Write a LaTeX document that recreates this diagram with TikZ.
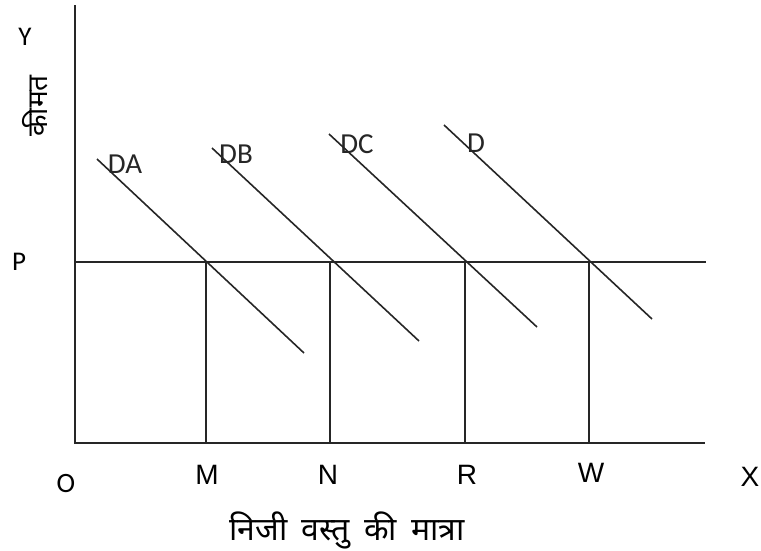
\documentclass[tikz,border=0pt]{standalone}
\usepackage{fontspec}
\setmainfont{Liberation Sans}
\newfontfamily\calfont{Carlito}
\newfontfamily\hindifont[Script=Devanagari,WordSpace=1.7]{Noto Sans}
\usetikzlibrary{positioning}

\begin{document}
\begin{tikzpicture}[
  x=1pt, y=-1pt,
  ln/.style={line width=1.6pt, draw=black!85},
  qlbl/.style={inner sep=0pt, font=\fontsize{28}{32}\selectfont},
  albl/.style={inner sep=0pt, font=\calfont\fontsize{27}{31}\selectfont},
  dlbl/.style={inner sep=0pt, font=\calfont\fontsize{29}{33}\selectfont, text=black!85}
]
  \useasboundingbox (0,0) rectangle (761,550);

  % axes
  \coordinate (o) at (75,443);
  \coordinate (ytop) at (75,5);
  \coordinate (xend) at (705,443);
  \coordinate (p) at (75,262);
  \coordinate (pend) at (706,262);
  \draw[ln] (ytop) -- (o) -- (xend);
  \draw[ln] (p) -- (pend);

  % quantities
  \foreach \n/\x in {m/206, n/330, r/465, w/589} {
    \coordinate (\n top) at (\x,262);
    \coordinate (\n bot) at (\x,443);
    \draw[ln] (\n top) -- (\n bot);
  }

  % demand curves
  \coordinate (da1) at (97,159);  \coordinate (da2) at (304,353);
  \coordinate (db1) at (212,148); \coordinate (db2) at (419,341);
  \coordinate (dc1) at (329,134); \coordinate (dc2) at (537,327);
  \coordinate (dd1) at (444,125); \coordinate (dd2) at (652,319);
  \draw[ln] (da1) -- (da2);
  \draw[ln] (db1) -- (db2);
  \draw[ln] (dc1) -- (dc2);
  \draw[ln] (dd1) -- (dd2);

  \node[dlbl] (lda) at (125,164) {DA};
  \node[dlbl] (ldb) at (236,154) {DB};
  \node[dlbl] (ldc) at (357,144) {DC};
  \node[dlbl] (ldd) at (476,143) {D};

  % labels
  \node[albl] (ly) at (25,37) {Y};
  \node[albl] (lp) at (19,262) {P};
  \node[albl, font=\calfont\fontsize{28}{32}\selectfont] (lo) at (66,484) {O};
  \node[qlbl] (lm) at (207,475) {M};
  \node[qlbl] (ln) at (328,475) {N};
  \node[qlbl] (lr) at (467,475) {R};
  \node[qlbl] (lw) at (591,473) {W};
  \node[qlbl] (lx) at (750,477) {X};
  \node[inner sep=0pt, rotate=90, font=\hindifont\fontsize{28}{32}\selectfont] (price) at (35,106) {कीमत};
  \node[inner sep=0pt, font=\hindifont\fontsize{32}{36}\selectfont] (qty) at (347,530) {निजी वस्तु की मात्रा};
\end{tikzpicture}
\end{document}
